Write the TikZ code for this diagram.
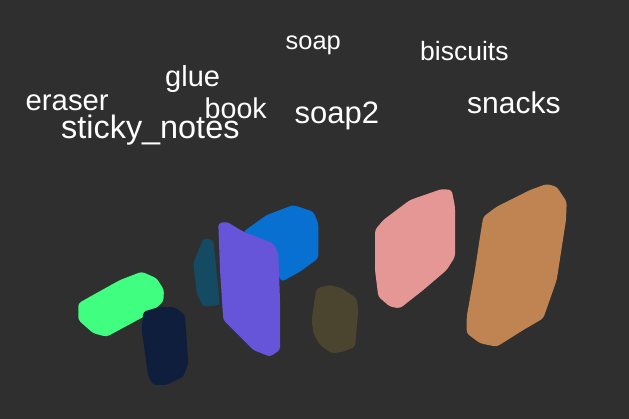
\documentclass[tikz,border=0pt]{standalone}
\usepackage{fontspec}
\setmainfont{Liberation Sans}
\definecolor{bg}{RGB}{47,47,47}
\definecolor{ceraser}{RGB}{64,255,128}
\definecolor{csticky}{RGB}{15,30,60}
\definecolor{cglue}{RGB}{20,74,98}
\definecolor{cbook}{RGB}{102,85,216}
\definecolor{csoap}{RGB}{8,112,208}
\definecolor{csoaptwo}{RGB}{75,69,48}
\definecolor{cbiscuits}{RGB}{228,151,148}
\definecolor{csnacks}{RGB}{192,132,83}
\tikzset{
  lbl/.style={anchor=base west, inner sep=0pt, text=white, font=\fontsize{#1}{#1}\selectfont},
  blob/.style={fill=#1, draw=none, rounded corners=3pt}
}
\begin{document}
\begin{tikzpicture}[x=1pt,y=-1pt]
\fill[bg] (0,0) rectangle (629,419);
\useasboundingbox (0,0) rectangle (629,419);
% eraser (green)
\fill[blob=ceraser] (78.3,303.3) -- (90,296.7) -- (120,280) -- (141.7,271.7) -- (156.7,278.3) -- (164,290) -- (163.3,301.7) -- (150,313.3) -- (106.7,336.7) -- (93.3,333.3) -- (78.3,320) -- cycle;
% sticky notes (navy)
\fill[blob=csticky] (143.3,311.7) -- (160,306.7) -- (175,307.3) -- (185,315) -- (188.3,363.3) -- (183.3,376.7) -- (166.7,385) -- (153.3,385) -- (148.3,376.7) -- (141.7,330) -- cycle;
% glue (teal)
\fill[blob=cglue] (203.3,238.3) -- (213.3,240) -- (220,305) -- (203.3,306.7) -- (196.7,293.3) -- (193.3,263.3) -- cycle;
% soap (blue)
\fill[blob=csoap] (243.3,231.7) -- (266.7,215) -- (293.3,205) -- (313.3,211.7) -- (318.3,223.3) -- (318.3,258.3) -- (300,271.7) -- (281.7,281.7) -- (270,260) -- cycle;
% book (purple)
\fill[blob=cbook] (218.3,223.3) -- (226.7,221.7) -- (243.3,231.7) -- (273.3,243.3) -- (278.3,253.3) -- (280,300) -- (280,350) -- (270,356.7) -- (253.3,350) -- (240,336.7) -- (223.3,320) -- (220,270) -- cycle;
% soap2 (olive)
\fill[blob=csoaptwo] (316.7,288.3) -- (330,285) -- (341.7,288.3) -- (356.7,298.3) -- (358.3,310) -- (355,346.7) -- (343.3,351.7) -- (331.7,353.3) -- (320,345) -- (313.3,333.3) -- (311.7,320) -- (315,296.7) -- cycle;
% biscuits (pink)
\fill[blob=cbiscuits] (375,230) -- (383.3,220) -- (410,200) -- (441.7,189) -- (451.7,190) -- (455,206.7) -- (455,256.7) -- (446.7,270) -- (423.3,290) -- (400,308.3) -- (390,306.7) -- (378.3,296.7) -- (375,270) -- cycle;
% snacks (orange)
\fill[blob=csnacks] (483.3,216.7) -- (496.7,206.7) -- (530,190) -- (546.7,184) -- (556.7,186.7) -- (566.7,201.7) -- (566,220) -- (556.7,280) -- (543.3,318.3) -- (523.3,330) -- (496.7,346.7) -- (480,343.3) -- (466.7,333.3) -- (466.7,316.7) -- (475,270) -- (480,236.7) -- cycle;
% labels
\node[lbl=29.3] (leraser) at (25.5,110.3) {eraser};
\node[lbl=32.4] (lsticky) at (61,139) {sticky\_notes};
\node[lbl=29] (lglue) at (165,86.7) {glue};
\node[lbl=28.6] (lbook) at (204.5,118.3) {book};
\node[lbl=25.4] (lsoap) at (285.5,50) {soap};
\node[lbl=31] (lsoaptwo) at (294.5,123.7) {soap2};
\node[lbl=26.5] (lbiscuits) at (420,61) {biscuits};
\node[lbl=30] (lsnacks) at (467,113.7) {snacks};
\end{tikzpicture}
\end{document}
